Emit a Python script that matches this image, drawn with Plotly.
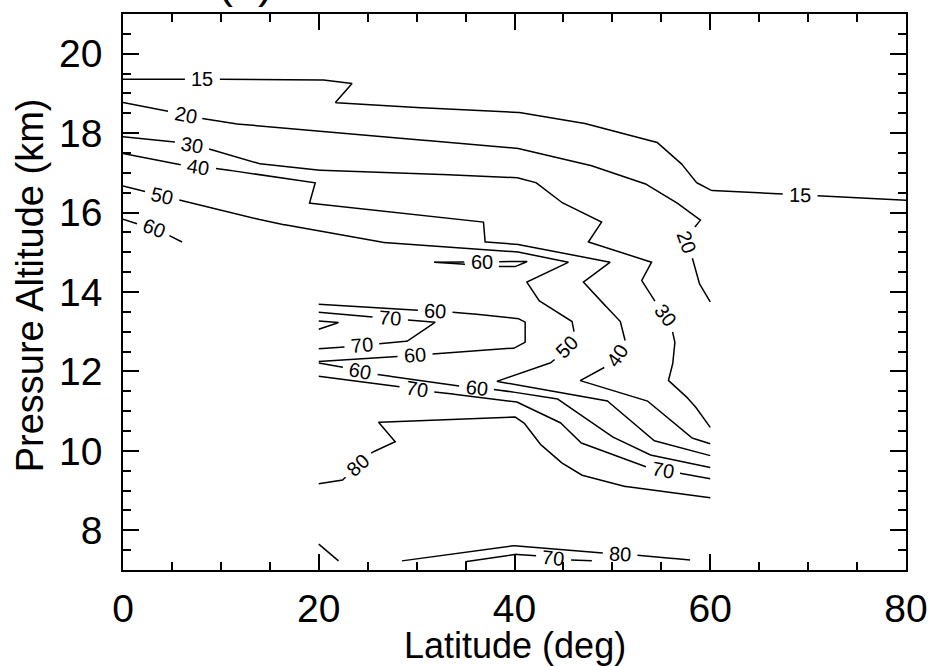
import math
import plotly.graph_objects as go

# ---------------- contour lines: latitude (deg) / pressure altitude (km) ----------------
c15_lat = [0, 20, 23.4, 21.7, 28.3, 39.9, 46.4, 54.5, 56.9, 58.5, 60, 80]
c15_alt = [19.36, 19.35, 19.25, 18.77, 18.66, 18.54, 18.29, 17.78, 17.28, 16.77, 16.56, 16.31]

c20_lat = [0, 4.8, 8.1, 10.8, 26.3, 39.9, 47.0, 53.2, 56.1, 59.0, 58.3, 57.55, 58.1, 58.8, 60]
c20_alt = [18.77, 18.54, 18.37, 18.25, 17.91, 17.64, 17.25, 16.75, 16.33, 15.81, 15.60, 15.25, 14.92, 14.25, 13.75]

c30_lat = [0, 5.3, 8.7, 13.7, 19.5, 39.9, 42.1, 44.7, 48.9, 47.55, 54.0, 53.0, 54.4, 55.4,
           56.07, 56.4, 56.24, 55.73, 56.92, 58.28, 60]
c30_alt = [17.91, 17.78, 17.61, 17.24, 17.07, 16.90, 16.77, 16.27, 15.76, 15.26, 14.75, 14.29, 13.75, 13.41,
           13.07, 12.78, 12.27, 11.77, 11.52, 11.18, 10.59]

c40_lat = [0, 6.2, 9.6, 19.64, 19.06, 28.32, 36.83, 37.0, 39.89, 49.77, 47.04, 48.41, 50.79, 51.3,
           50.45, 49.26, 46.71, 53.52, 57.94, 60]
c40_alt = [17.49, 17.19, 17.11, 16.75, 16.24, 15.98, 15.76, 15.26, 15.22, 14.75, 14.25, 13.87, 13.28, 12.78,
           12.40, 12.11, 11.77, 11.27, 10.34, 10.18]

c50_lat = [0, 2.45, 5.85, 15.04, 25.94, 28.32, 39.89, 45.51, 41.26, 42.45, 45.86, 46.2, 45.35, 43.82,
           38.2, 49.43, 54.19, 60]
c50_alt = [16.67, 16.52, 16.31, 15.76, 15.26, 15.22, 15.03, 14.75, 14.25, 13.79, 13.28, 12.86, 12.61, 12.23,
           11.75, 11.27, 10.26, 9.88]

c60a_lat = [0, 1.43, 3.13, 4.66, 6.03]
c60a_alt = [15.83, 15.72, 15.60, 15.43, 15.26]

c60b_lat = [31.8, 41.3, 40.17, 38.2, 31.8]
c60b_alt = [14.75, 14.77, 14.64, 14.64, 14.75]

c60c_lat = [20, 30.03, 33.77, 40.24, 41.09, 41.09, 40.07, 31.72, 28.15, 20]
c60c_alt = [13.69, 13.54, 13.49, 13.35, 13.24, 12.74, 12.59, 12.44, 12.38, 12.25]

c70a_lat = [20, 25.6, 29.01, 31.9, 29.01, 26.28, 22.53, 20]
c70a_alt = [13.49, 13.37, 13.30, 13.24, 12.76, 12.70, 12.61, 12.57]

c80a_lat = [20, 22.02, 20]
c80a_alt = [13.27, 13.23, 13.06]

c60d_lat = [20, 22.37, 26.11, 33.94, 38.2, 44.33, 49.77, 53.8, 60]
c60d_alt = [12.21, 12.11, 11.92, 11.64, 11.54, 11.32, 10.38, 9.90, 9.58]

c70b_lat = [20, 28.15, 31.9, 40.07, 44.66, 46.71, 53.52, 60]
c70b_alt = [11.88, 11.62, 11.48, 11.25, 10.72, 10.21, 9.59, 9.30]

c80b_lat = [20, 22.37, 25.43, 27.81, 26.11, 40.07, 40.92, 42.45, 44.49, 46.71, 50.79, 60]
c80b_alt = [9.17, 9.25, 9.96, 10.23, 10.72, 10.85, 10.72, 10.21, 9.75, 9.40, 9.12, 8.82]

c80c_lat = [20, 22.02]
c80c_alt = [7.65, 7.23]

c80d_lat = [28.5, 39.89, 48.92, 52.66, 57.94]
c80d_alt = [7.23, 7.61, 7.43, 7.37, 7.25]

c70c_lat = [34.96, 39.89, 42.11, 45.68, 47.9]
c70c_alt = [7.21, 7.40, 7.36, 7.25, 7.23]

# label anchors along each line
l15_lat, l15_alt = [8.1, 69.2], [19.36, 16.45]
l20_lat, l20_alt = [6.4, 57.55], [18.46, 15.25]
l30_lat, l30_alt = [7.0, 55.4], [17.69, 13.41]
l40_lat, l40_alt = [7.7, 50.45], [17.16, 12.40]
l50_lat, l50_alt = [4.0, 45.35], [16.44, 12.61]
l60a_lat, l60a_alt = [3.13], [15.60]
l60b_lat, l60b_alt = [36.67], [14.76]
l60c_lat, l60c_alt = [31.9, 29.85], [13.52, 12.41]
l70a_lat, l70a_alt = [27.3, 24.41], [13.34, 12.66]
l60d_lat, l60d_alt = [24.24, 36.16], [12.04, 11.60]
l70b_lat, l70b_alt = [30.03, 55.2], [11.56, 9.52]
l80b_lat, l80b_alt = [24.06], [9.63]
l80d_lat, l80d_alt = [50.79], [7.40]
l70c_lat, l70c_alt = [43.98], [7.31]

# axis ticks
x_ticks = [0, 20, 40, 60, 80]
y_ticks = [8, 10, 12, 14, 16, 18, 20]

# ---------------- drawing setup ----------------
W, H = 931, 666
ML, MR, MT, MB = 123, 25, 14, 96
PW, PH = W - ML - MR, H - MT - MB
XR = (0, 80)
YR = (7, 21)

BIG_FONT = "Liberation Sans, Arial, Helvetica, sans-serif"
LBL_FONT = "Liberation Sans, Arial, Helvetica, sans-serif"

# (level, line lat, line alt, label lat, label alt, label angles)
lines = [
    ("15", c15_lat, c15_alt, l15_lat, l15_alt, [0, 1]),
    ("20", c20_lat, c20_alt, l20_lat, l20_alt, [11, 70]),
    ("30", c30_lat, c30_alt, l30_lat, l30_alt, [9, 52]),
    ("40", c40_lat, c40_alt, l40_lat, l40_alt, [9, -55]),
    ("50", c50_lat, c50_alt, l50_lat, l50_alt, [13, -45]),
    ("60", c60a_lat, c60a_alt, l60a_lat, l60a_alt, [21]),
    ("60", c60b_lat, c60b_alt, l60b_lat, l60b_alt, [0]),
    ("60", c60c_lat, c60c_alt, l60c_lat, l60c_alt, [3, -4]),
    ("70", c70a_lat, c70a_alt, l70a_lat, l70a_alt, [4, -5]),
    ("80", c80a_lat, c80a_alt, [], [], []),
    ("60", c60d_lat, c60d_alt, l60d_lat, l60d_alt, [11, 6]),
    ("70", c70b_lat, c70b_alt, l70b_lat, l70b_alt, [9, 10]),
    ("80", c80b_lat, c80b_alt, l80b_lat, l80b_alt, [-42]),
    ("80", c80c_lat, c80c_alt, [], [], []),
    ("80", c80d_lat, c80d_alt, l80d_lat, l80d_alt, [3]),
    ("70", c70c_lat, c70c_alt, l70c_lat, l70c_alt, [6]),
]


def to_px(lat, alt):
    return ((lat - XR[0]) / (XR[1] - XR[0]) * PW, (alt - YR[0]) / (YR[1] - YR[0]) * PH)


def from_px(px, py):
    return (XR[0] + px / PW * (XR[1] - XR[0]), YR[0] + py / PH * (YR[1] - YR[0]))


def nearest_on(poly, p):
    best, bd = poly[0], 1e18
    for (ax, ay), (bx, by) in zip(poly[:-1], poly[1:]):
        dx, dy = bx - ax, by - ay
        L2 = dx * dx + dy * dy
        t = 0 if L2 == 0 else max(0, min(1, ((p[0] - ax) * dx + (p[1] - ay) * dy) / L2))
        q = (ax + t * dx, ay + t * dy)
        d = (q[0] - p[0]) ** 2 + (q[1] - p[1]) ** 2
        if d < bd:
            best, bd = q, d
    return best


def broken_line(poly, centers, r):
    xs, ys = [], []
    gap = False
    for (ax, ay), (bx, by) in zip(poly[:-1], poly[1:]):
        n = max(1, int(math.ceil(math.hypot(bx - ax, by - ay))))
        for k in range(n + 1):
            px, py = ax + (bx - ax) * k / n, ay + (by - ay) * k / n
            if any(math.hypot(px - cx, py - cy) < r for cx, cy in centers):
                if not gap:
                    xs.append(None)
                    ys.append(None)
                    gap = True
                continue
            gap = False
            la, al = from_px(px, py)
            xs.append(la)
            ys.append(al)
    return xs, ys


fig = go.Figure()
annotations = []
GAP_R = 17

for level, lat, alt, lab_lat, lab_alt, angles in lines:
    poly = [to_px(a, b) for a, b in zip(lat, alt)]
    centers = [nearest_on(poly, to_px(a, b)) for a, b in zip(lab_lat, lab_alt)]
    xs, ys = broken_line(poly, centers, GAP_R)
    fig.add_trace(go.Scatter(x=xs, y=ys, mode="lines", line=dict(color="black", width=1.5),
                             hoverinfo="skip", showlegend=False))
    for (cx, cy), ang in zip(centers, angles):
        la, al = from_px(cx, cy)
        annotations.append(dict(x=la, y=al, xref="x", yref="y", text=level, showarrow=False,
                                textangle=ang, xanchor="center", yanchor="middle",
                                font=dict(family=LBL_FONT, size=20, color="black")))

# axis titles and panel tag
annotations.append(dict(x=0.5, y=0, xref="paper", yref="paper", yshift=-75, text="Latitude (deg)",
                        showarrow=False, xanchor="center", yanchor="middle",
                        font=dict(family=BIG_FONT, size=36, color="black")))
annotations.append(dict(x=0, y=0.512, xref="paper", yref="paper", xshift=-93, text="Pressure Altitude (km)",
                        showarrow=False, textangle=-90, xanchor="center", yanchor="middle",
                        font=dict(family=BIG_FONT, size=38, color="black")))
annotations.append(dict(x=(245 - ML) / PW, y=1, xref="paper", yref="paper", yshift=32, text="(a)",
                        showarrow=False, xanchor="center", yanchor="middle",
                        font=dict(family=BIG_FONT, size=45, color="black")))

axis_common = dict(
    showline=True, linecolor="black", linewidth=1.6, mirror="ticks",
    ticks="inside", ticklen=16, tickwidth=1.5, tickcolor="black",
    showgrid=False, zeroline=False, ticklabeloverflow="allow", automargin=False,
    tickfont=dict(family=BIG_FONT, size=39, color="black"),
)

fig.update_layout(
    width=W, height=H,
    margin=dict(l=ML, r=MR, t=MT, b=MB, pad=0, autoexpand=False),
    paper_bgcolor="white", plot_bgcolor="white",
    xaxis=dict(range=list(XR), tickvals=x_ticks, ticktext=[str(v) for v in x_ticks],
               minor=dict(dtick=5, tick0=0, ticks="inside", ticklen=8, tickwidth=1.5, tickcolor="black", showgrid=False),
               ticklabelstandoff=3, **axis_common),
    yaxis=dict(range=list(YR), tickvals=y_ticks, ticktext=[str(v) for v in y_ticks],
               minor=dict(dtick=0.5, tick0=0, ticks="inside", ticklen=8, tickwidth=1.5, tickcolor="black", showgrid=False),
               ticklabelstandoff=11, **axis_common),
    annotations=annotations,
)

fig.write_html("out.html")
